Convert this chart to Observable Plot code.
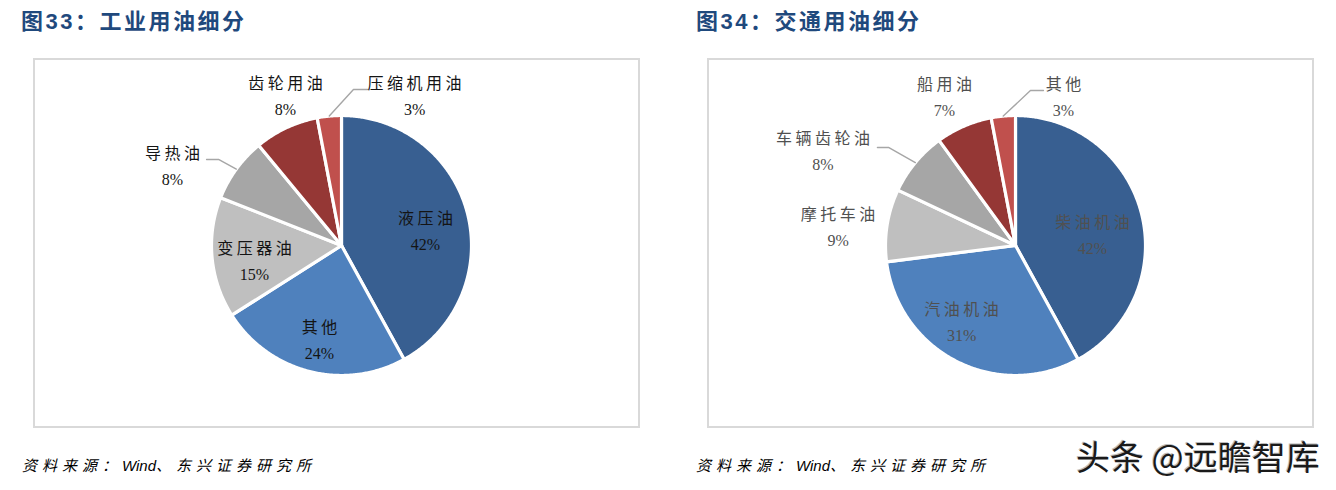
<!DOCTYPE html>
<html><head><meta charset="utf-8">
<script src="https://cdn.jsdelivr.net/npm/d3@7"></script>
<script src="https://cdn.jsdelivr.net/npm/@observablehq/plot@0.6"></script>
<style>
body{margin:0;background:#fff;}
#root{position:relative;width:1336px;height:490px;overflow:hidden;background:#fff;}
.title{position:absolute;top:11px;font:bold 22px/1 "Liberation Sans","Noto Sans CJK SC",sans-serif;color:#1F497D;letter-spacing:2.5px;white-space:nowrap;}
.box{position:absolute;top:58px;width:603px;height:366px;border:2px solid #D9D9D9;}
.box svg{display:block;}
.src{position:absolute;top:457px;font:italic 15px/1 "Noto Sans CJK SC",sans-serif;letter-spacing:5px;color:#000;white-space:nowrap;}
.src .en{font-family:"Liberation Sans",sans-serif;letter-spacing:0;}
.wm{position:absolute;left:1076px;top:439px;font:34px/1 "Noto Sans CJK SC",sans-serif;color:#1a1a1a;white-space:nowrap;text-shadow:1px 1px 0 #fff,-1px -1px 0 #bbb;}
g[aria-description="names"] text{letter-spacing:3.5px;}
</style>
</head><body>
<div id="root">
  <div class="title" style="left:21px">图33：工业用油细分</div>
  <div class="title" style="left:696px">图34：交通用油细分</div>
  <div class="box" id="left" style="left:33px"></div>
  <div class="box" id="right" style="left:707px"></div>
  <div class="src" style="left:22px">资料来源：<span class="en">Wind</span>、东兴证券研究所</div>
  <div class="src" style="left:696px">资料来源：<span class="en">Wind</span>、东兴证券研究所</div>
  <div class="wm">头条 @远瞻智库</div>
</div>
<script>
// ---- data ----
const leftNames = ["液压油", "其他", "变压器油", "导热油", "齿轮用油", "压缩机用油"];
const leftValues = [42, 24, 15, 8, 8, 3];
const rightNames = ["柴油机油", "汽油机油", "摩托车油", "车辆齿轮油", "船用油", "其他"];
const rightValues = [42, 31, 9, 8, 7, 3];
const sliceColors = ["#385F91", "#4F81BD", "#BFBFBF", "#A6A6A6", "#953735", "#C0504D"];

// ---- layout (in units of the pie radius, y up, relative to centre) ----
const leftLabelX = [0.646, -0.169, -0.669, -1.30, -0.431, 0.562];
const leftLabelY = [0.108, -0.731, -0.123, 0.608, 1.142, 1.142];
const rightLabelX = [0.592, -0.415, -1.365, -1.481, -0.546, 0.369];
const rightLabelY = [0.073, -0.592, 0.135, 0.723, 1.135, 1.135];
// leader lines: slice index, elbow point, end point
const leftLeaders = [{i: 3, bx: -0.946, by: 0.662, cx: -1.038, cy: 0.662},
                     {i: 5, bx: 0.092, by: 1.20, cx: 0.20, cy: 1.20}];
const rightLeaders = [{i: 3, bx: -0.977, by: 0.754, cx: -1.062, cy: 0.754},
                      {i: 5, bx: 0.115, by: 1.192, cx: 0.215, cy: 1.192}];

const W = 603, H = 366, CX = 306, CY = 185, R = 130;

function pieChart(names, values, labelX, labelY, leaders, textColor) {
  const rows = names.map((name, i) => ({name, value: values[i], i}));
  const arcs = d3.pie().sort(null).value(d => d.value)(rows);
  const poly = [];
  for (const a of arcs) {
    const n = Math.max(2, Math.ceil((a.endAngle - a.startAngle) / (Math.PI / 360)));
    poly.push({name: a.data.name, x: 0, y: 0});
    for (let k = 0; k <= n; k++) {
      const t = a.startAngle + (a.endAngle - a.startAngle) * k / n;
      poly.push({name: a.data.name, x: Math.sin(t), y: Math.cos(t)});
    }
    poly.push({name: a.data.name, x: 0, y: 0});
  }
  const leaderPts = [];
  for (const L of leaders) {
    const a = arcs[L.i];
    const m = (a.startAngle + a.endAngle) / 2;
    leaderPts.push({g: L.i, x: Math.sin(m), y: Math.cos(m)});
    leaderPts.push({g: L.i, x: L.bx, y: L.by});
    leaderPts.push({g: L.i, x: L.cx, y: L.cy});
  }
  const labels = rows.map((r, i) => ({name: r.name, pct: r.value + "%", x: labelX[i], y: labelY[i]}));
  const font = "'Liberation Serif','Noto Sans CJK SC',serif";
  return Plot.plot({
    width: W, height: H,
    margin: 0,
    x: {domain: [-CX / R, (W - CX) / R], axis: null},
    y: {domain: [-(H - CY) / R, CY / R], axis: null},
    color: {domain: names, range: sliceColors},
    style: {background: "#fff", overflow: "visible"},
    marks: [
      Plot.line(poly, {x: "x", y: "y", z: "name", fill: "name", stroke: "#fff", strokeWidth: 3.2, strokeLinejoin: "round", curve: "linear"}),
      Plot.line(leaderPts, {x: "x", y: "y", z: "g", stroke: "#A6A6A6", strokeWidth: 1.4, curve: "linear"}),
      Plot.text(labels, {x: "x", y: "y", text: "name", dy: -13, dx: 1.75, fill: textColor, fontSize: 16, fontFamily: font, ariaDescription: "names"}),
      Plot.text(labels, {x: "x", y: "y", text: "pct", dy: 13, fill: textColor, fontSize: 16, fontFamily: font})
    ]
  });
}

document.getElementById("left").appendChild(
  pieChart(leftNames, leftValues, leftLabelX, leftLabelY, leftLeaders, "#141414"));
document.getElementById("right").appendChild(
  pieChart(rightNames, rightValues, rightLabelX, rightLabelY, rightLeaders, "#505050"));
</script>
</body></html>
